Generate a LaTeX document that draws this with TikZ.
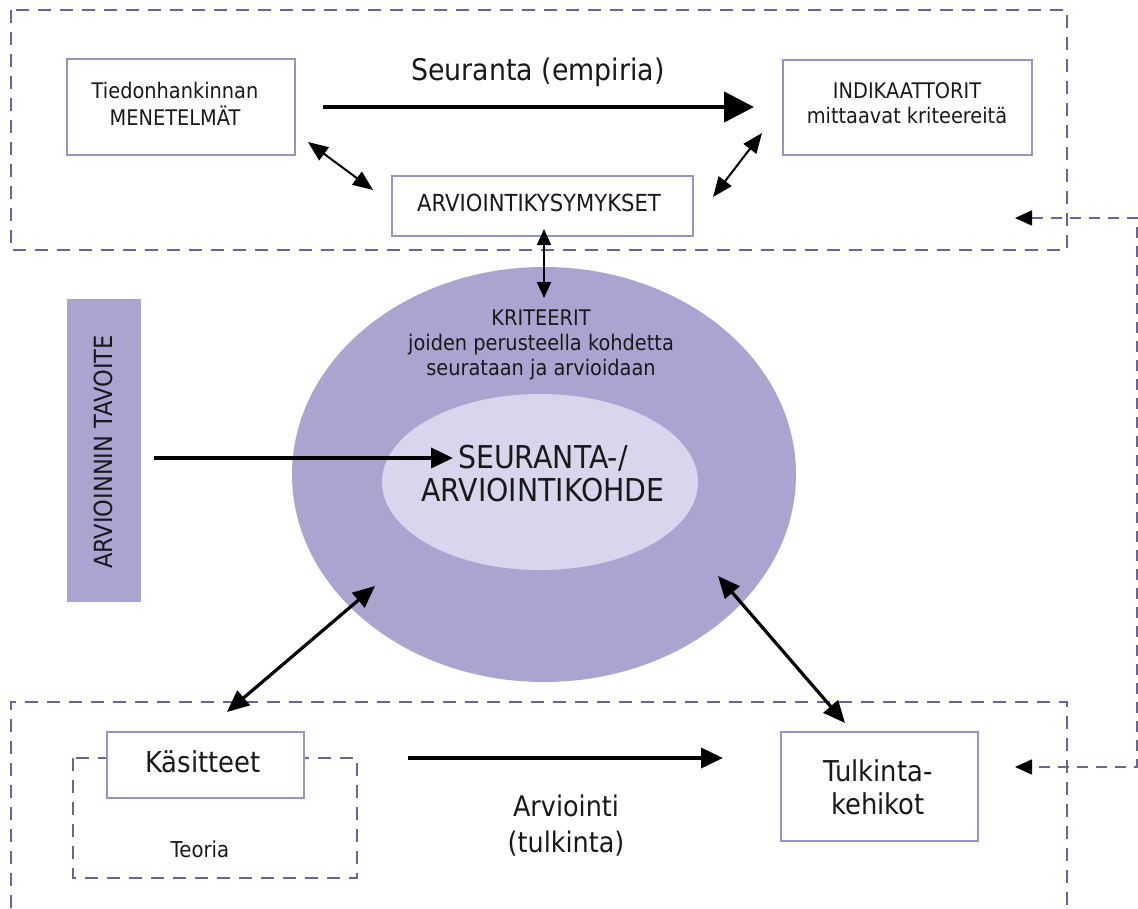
\documentclass[tikz,border=0pt]{standalone}
\usepackage{fontspec}
\setmainfont{DejaVu Sans}[FakeStretch=0.9]
\usetikzlibrary{arrows.meta}
\definecolor{outerfill}{RGB}{170,165,208}
\definecolor{innerfill}{RGB}{216,214,236}
\definecolor{boxline}{RGB}{150,148,195}
\definecolor{dashline}{RGB}{104,102,150}
\definecolor{ink}{RGB}{25,25,25}
\newcommand{\fsz}[2]{\fontsize{#1}{#2}\selectfont}
\tikzset{
  framebox/.style={draw=boxline, line width=1.2pt, fill=white, inner sep=0pt},
  dashframe/.style={draw=dashline, line width=1.5pt, dash pattern=on 13pt off 9pt},
  txt/.style={text=ink, align=center, inner sep=0pt},
  bigarrow/.style={draw=black, line width=4.5pt, -{Triangle[length=30pt,width=30pt]}},
  midarrow/.style={draw=black, line width=3.8pt, -{Triangle[length=22pt,width=20pt]}},
  duoarrow/.style={draw=black, line width=3.2pt, {Triangle[length=22pt,width=19pt]}-{Triangle[length=22pt,width=19pt]}},
  thinduo/.style={draw=black, line width=2pt, {Triangle[length=20pt,width=16pt]}-{Triangle[length=20pt,width=16pt]}},
  vduo/.style={draw=black, line width=2pt, {Triangle[length=16pt,width=14pt]}-{Triangle[length=16pt,width=14pt]}},
  feedback/.style={draw=dashline, line width=1.5pt, dash pattern=on 11pt off 8pt,
    {Triangle[length=17pt,width=15pt,fill=black,color=black]}-{Triangle[length=17pt,width=15pt,fill=black,color=black]}}
}
\begin{document}
\begin{tikzpicture}[x=1pt,y=-1pt]
\useasboundingbox (0,0) rectangle (1138,908);

% upper and lower dashed frames
\draw[dashframe] (11,10) rectangle (1067,250);
\draw[dashframe] (11,908) -- (11,702) -- (1067,702) -- (1067,908);

% central target: outer and inner ellipse
\fill[outerfill] (544,474.5) ellipse [x radius=252, y radius=207.5];
\fill[innerfill] (540,482) ellipse [x radius=158, y radius=88];
\node[txt, font=\fsz{21.5}{25}] (krit) at (541,345)
  {KRITEERIT\\joiden perusteella kohdetta\\seurataan ja arvioidaan};
\node[txt, font=\fsz{31.5}{33}] (kohde) at (543,474) {SEURANTA-/\\ARVIOINTIKOHDE};

% upper row
\node[framebox, minimum width=228pt, minimum height=96pt] (tied) at (181,107) {};
\node[txt, font=\fsz{21.5}{27}] (tiedtxt) at (175,104) {Tiedonhankinnan\\MENETELMÄT};
\node[framebox, minimum width=249pt, minimum height=95pt] (ind) at (907.5,107.5) {};
\node[txt, font=\fsz{21.5}{25}] (indtxt) at (907,103) {INDIKAATTORIT\\mittaavat kriteereitä};
\node[framebox, minimum width=301pt, minimum height=60pt] (kys) at (542.5,206) {};
\node[txt, font=\fsz{23.5}{27}] (kystxt) at (539,203) {ARVIOINTIKYSYMYKSET};
\node[txt, font=\fsz{29.8}{33}] (seur) at (538,72) {Seuranta (empiria)};

% left bar
\node[fill=outerfill, minimum width=74pt, minimum height=303pt, inner sep=0pt] (bar) at (104,450.5) {};
\node[txt, font=\fsz{25}{28}, rotate=90] (bartxt) at (103,452) {ARVIOINNIN TAVOITE};

% lower row
\draw[dashframe] (73,758) rectangle (357,878);
\node[framebox, minimum width=197pt, minimum height=66pt] (kas) at (205.5,765) {};
\node[txt, font=\fsz{28.8}{32}] (kastxt) at (203,762) {Käsitteet};
\node[txt, font=\fsz{21.9}{25}] (teoria) at (200,849) {Teoria};
\node[framebox, minimum width=197pt, minimum height=109pt] (tulk) at (879.5,786.5) {};
\node[txt, font=\fsz{28.7}{33}] (tulktxt) at (878,787) {Tulkinta-\\kehikot};
\node[txt, font=\fsz{28.3}{36}] (arv) at (566,826) {Arviointi\\(tulkinta)};

% connector end points
\coordinate (sA) at (323,107);  \coordinate (sB) at (754,107);
\coordinate (aA) at (408,758);  \coordinate (aB) at (723,758);
\coordinate (bA) at (154,458);  \coordinate (bB) at (453,458);
\coordinate (tlA) at (308,142); \coordinate (tlB) at (373,190);
\coordinate (trA) at (713,197); \coordinate (trB) at (762,133);
\coordinate (vA) at (544,229);  \coordinate (vB) at (544,298);
\coordinate (blA) at (227,712); \coordinate (blB) at (375,586);
\coordinate (brA) at (845,723); \coordinate (brB) at (718,576);
\coordinate (fbTop) at (1015,218); \coordinate (fbC1) at (1137,218);
\coordinate (fbC2) at (1137,767);  \coordinate (fbBot) at (1015,767);

% connectors
\draw[bigarrow] (sA) -- (sB);
\draw[midarrow] (aA) -- (aB);
\draw[midarrow] (bA) -- (bB);
\draw[thinduo] (tlA) -- (tlB);
\draw[thinduo] (trA) -- (trB);
\draw[vduo] (vA) -- (vB);
\draw[duoarrow] (blA) -- (blB);
\draw[duoarrow] (brA) -- (brB);
\draw[feedback] (fbTop) -- (fbC1) -- (fbC2) -- (fbBot);
\end{tikzpicture}
\end{document}
